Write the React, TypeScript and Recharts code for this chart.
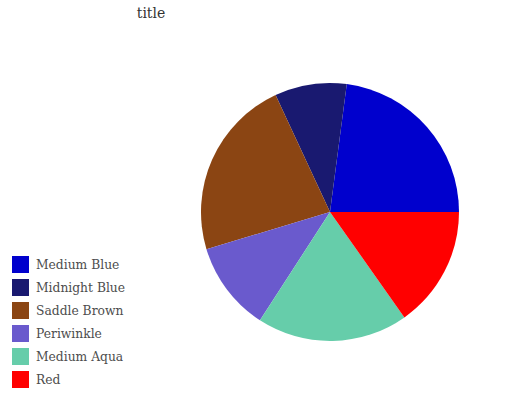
import React from "react";
import { PieChart, Pie, Cell, Legend } from "recharts";

const names = ["Medium Blue", "Midnight Blue", "Saddle Brown", "Periwinkle", "Medium Aqua", "Red"];
const values = [22.9, 9.0, 22.7, 11.2, 18.9, 15.2];
const colors = ["#0000cd", "#191970", "#8b4513", "#6a5acd", "#66cdaa", "#ff0000"];

const data = names.map((name, i) => ({ name, value: values[i] }));

function LegendBox() {
  return (
    <div style={{ fontFamily: "DejaVu Serif, serif", fontSize: 12.3, color: "#4d4d4d" }}>
      {names.map((n, i) => (
        <div key={n} style={{ display: "flex", alignItems: "center", height: 23 }}>
          <div style={{ width: 17, height: 17, background: colors[i], marginRight: 7 }} />
          <span>{n}</span>
        </div>
      ))}
    </div>
  );
}

export default function App() {
  return (
    <div style={{ position: "absolute", left: 0, top: 0, width: 532, height: 400, background: "#fff" }}>
      <div
        style={{
          position: "absolute",
          left: 0,
          width: 302,
          top: 5,
          textAlign: "center",
          fontFamily: "DejaVu Serif, serif",
          fontSize: 14,
          color: "#333",
        }}
      >
        title
      </div>
      <PieChart width={532} height={400} margin={{ top: 0, right: 0, bottom: 0, left: 0 }}>
        <Pie
          data={data}
          dataKey="value"
          nameKey="name"
          cx={330}
          cy={212}
          outerRadius={129}
          startAngle={0}
          endAngle={360}
          stroke="none"
          isAnimationActive={false}
        >
          {data.map((d, i) => (
            <Cell key={d.name} fill={colors[i]} />
          ))}
        </Pie>
        <Legend
          content={() => <LegendBox />}
          wrapperStyle={{ position: "absolute", left: 12, top: 253, width: 160 }}
        />
      </PieChart>
    </div>
  );
}
